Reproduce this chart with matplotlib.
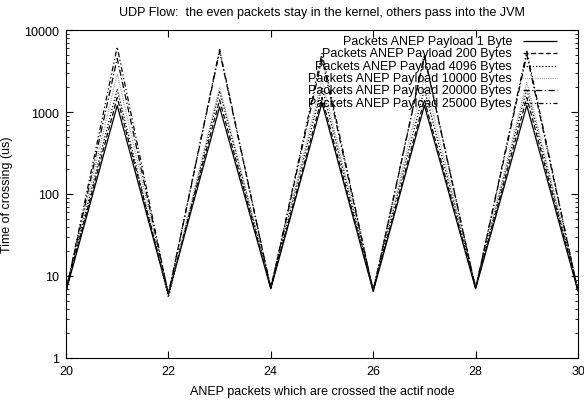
import numpy as np
import matplotlib
matplotlib.use("Agg")
import matplotlib.pyplot as plt
from matplotlib.ticker import LogLocator, FixedLocator, NullFormatter

plt.rcParams['font.family'] = ['Liberation Sans', 'DejaVu Sans']

x = np.arange(20, 31)

labels = ['Packets ANEP Payload 1 Byte',
          'Packets ANEP Payload 200 Bytes',
          'Packets ANEP Payload 4096 Bytes',
          'Packets ANEP Payload 10000 Bytes',
          'Packets ANEP Payload 20000 Bytes',
          'Packets ANEP Payload 25000 Bytes']

s1 = [6.5, 1200, 6.0, 1150, 7.0, 1300, 6.5, 1200, 7.0, 1200, 6.5]
s200 = [6.8, 1500, 6.2, 1400, 7.2, 1500, 6.8, 1400, 7.2, 1500, 6.8]
s4096 = [7.0, 1900, 5.5, 1800, 7.5, 2000, 7.0, 1900, 7.5, 1900, 7.0]
s10000 = [7.0, 2900, 6.0, 2000, 7.5, 2500, 7.0, 2600, 7.5, 2300, 7.0]
s20000 = [6.5, 4500, 6.0, 5500, 7.0, 4500, 6.5, 4800, 7.0, 5000, 6.5]
s25000 = [6.5, 6200, 6.0, 5800, 7.0, 5200, 6.5, 5000, 7.0, 5500, 6.5]
series = [s1, s200, s4096, s10000, s20000, s25000]

# gnuplot-like dash patterns
styles = [(0, ()), (0, (4, 2)), (0, (1, 1.5)), (0, (0.5, 1)),
          (0, (5, 2, 1, 2)), (0, (4, 2, 1, 2, 1, 2))]
colors = ['black', 'black', 'black', '#777777', 'black', 'black']

fig = plt.figure(figsize=(5.84, 4.02), dpi=100)
ax = fig.add_axes([66/584, 1 - 359/402, 512/584, 328/402])

for s, ls, c in zip(series, styles, colors):
    ax.plot(x, s, color=c, linestyle=ls, linewidth=0.9)

ax.set_yscale('log')
ax.set_xlim(20, 30)
ax.set_ylim(1, 10000)
ax.set_xticks(np.arange(20, 31, 2))
ax.yaxis.set_major_locator(FixedLocator([1, 10, 100, 1000, 10000]))
ax.set_yticklabels(['1', '10', '100', '1000', '10000'])
ax.yaxis.set_minor_locator(LogLocator(base=10, subs=np.arange(2, 10)))
ax.yaxis.set_minor_formatter(NullFormatter())
ax.tick_params(which='both', direction='in', top=True, right=True, labelsize=9)
ax.tick_params(which='major', length=5, width=0.8, pad=5)
ax.tick_params(which='minor', length=2.5, width=0.6)
for sp in ax.spines.values():
    sp.set_linewidth(0.8)

ax.set_title('UDP Flow:  the even packets stay in the kernel, others pass into the JVM',
             fontsize=9, pad=11)
ax.set_xlabel('ANEP packets which are crossed the actif node', fontsize=9, labelpad=6)
ax.set_ylabel('Time of crossing (us)', fontsize=9, labelpad=8)

# gnuplot style key: right aligned text, sample on the right
for i, (lab, ls, c) in enumerate(zip(labels, styles, colors)):
    yy = 0.966 - i * 0.0375
    ax.text(0.871, yy, lab, transform=ax.transAxes, ha='right', va='center', fontsize=9)
    ax.plot([0.893, 0.959], [yy, yy], transform=ax.transAxes, color=c,
            linestyle=ls, linewidth=0.9)

fig.savefig('out.png', dpi=100)
